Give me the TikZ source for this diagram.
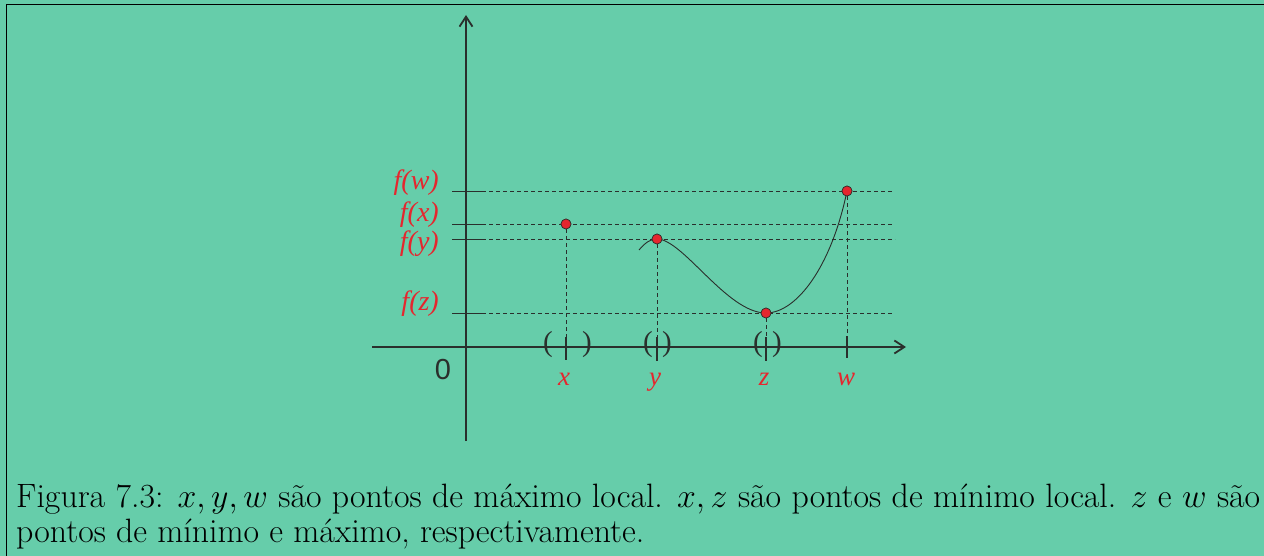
\RequirePackage{fix-cm}
\documentclass[tikz,border=0pt]{standalone}
\usepackage{fontspec}
\newfontfamily\tnr{Liberation Serif}[ItalicFont={Liberation Serif Italic}]
\newfontfamily\ars{Liberation Sans}
\usetikzlibrary{arrows.meta}
\definecolor{bg}{HTML}{66CDAA}
\definecolor{lab}{HTML}{E5262E}
\definecolor{ax}{HTML}{2A2F2C}
\begin{document}
\begin{tikzpicture}[x=1pt,y=-1pt,
  axisline/.style={ax, line width=1.3pt, -{Straight Barb[length=10pt,width=13pt,line width=1.8pt]}},
  guide/.style={ax, line width=0.9pt, dash pattern=on 4pt off 3pt},
  tickline/.style={ax, line width=1.1pt},
  htick/.style={ax, line width=0.8pt},
  pdot/.style={circle, fill=lab, draw=ax, line width=0.6pt, minimum size=10pt, inner sep=0pt},
  flab/.style={text=lab, font=\tnr\itshape\fontsize{28}{28}\selectfont, anchor=east, inner sep=0pt},
  xlab/.style={text=lab, font=\tnr\itshape\fontsize{27}{27}\selectfont, anchor=base, inner sep=0pt},
  paren/.style={text=ax, font=\tnr\fontsize{29}{29}\selectfont, inner sep=0pt},
  frame/.style={black, line width=1pt}]
\useasboundingbox (0,0) rectangle (1264,556);
\fill[bg] (0,0) rectangle (1264,556);
\draw[frame] (6,556) -- (6,5) -- (1264,5);
% axes
\coordinate (yb) at (466,441);
\coordinate (yt) at (466,15);
\coordinate (xl) at (372,347);
\coordinate (xr) at (906,347);
\draw[axisline] (yb) -- (yt);
\draw[axisline] (xl) -- (xr);
\node[font=\ars\fontsize{29}{29}\selectfont, text=ax, inner sep=0pt] (zero) at (443,370) {0};
% points
\node[pdot] (px) at (566,224) {};
\node[pdot] (py) at (657,239) {};
\node[pdot] (pz) at (766,313) {};
\node[pdot] (pw) at (847,191) {};
% horizontal guide levels
\coordinate (hw0) at (452,191); \coordinate (hw1) at (482,191); \coordinate (hw2) at (892,191);
\coordinate (hx0) at (452,224); \coordinate (hx1) at (482,224); \coordinate (hx2) at (893,224);
\coordinate (hy0) at (452,239); \coordinate (hy1) at (482,239); \coordinate (hy2) at (895,239);
\coordinate (hz0) at (452,313); \coordinate (hz1) at (482,313); \coordinate (hz2) at (893,313);
\foreach \h in {hw,hx,hy,hz}{
  \draw[htick] (\h0) -- (\h1);
  \draw[guide] (\h1) -- (\h2);
}
% vertical guides and ticks
\coordinate (vx1) at (566,337); \coordinate (vx2) at (566,360);
\coordinate (vy1) at (657,337); \coordinate (vy2) at (657,361);
\coordinate (vz1) at (766,337); \coordinate (vz2) at (766,361);
\coordinate (vw1) at (847,336); \coordinate (vw2) at (847,358);
\draw[guide] (px) -- (vx1);
\draw[guide] (py) -- (vy1);
\draw[guide] (pz) -- (vz1);
\draw[guide] (pw) -- (vw1);
\draw[tickline] (vx1) -- (vx2);
\draw[tickline] (vy1) -- (vy2);
\draw[tickline] (vz1) -- (vz2);
\draw[tickline] (vw1) -- (vw2);
% parentheses
\node[paren] (xpl) at (548,345) {(};
\node[paren] (xpr) at (587,345) {)};
\node[paren] (ypl) at (648,345) {(};
\node[paren] (ypr) at (667,345) {)};
\node[paren] (zpl) at (758,345) {(};
\node[paren] (zpr) at (777,345) {)};
% curve
\coordinate (cs) at (639,250);
\draw[ax, line width=0.9pt] (cs) .. controls (645,243) and (650,239) .. (py.center)
  .. controls (683,239) and (727,313) .. (pz.center)
  .. controls (796,313) and (831,268) .. (pw.center);
% dots on top
\node[pdot] at (px) {};
\node[pdot] at (py) {};
\node[pdot] at (pz) {};
\node[pdot] at (pw) {};
% labels
\node[flab] (lfw) at (439,183) {f(w)};
\node[flab] (lfx) at (439,215) {f(x)};
\node[flab] (lfy) at (439,244) {f(y)};
\node[flab] (lfz) at (439,304) {f(z)};
\node[xlab] (lx) at (564,385) {x};
\node[xlab] (ly) at (655,385) {y};
\node[xlab] (lz) at (764,385) {z};
\node[xlab] (lw) at (846,385) {w};
% caption
\node[anchor=north west, inner sep=0pt, text width=1244pt, align=justify,
  font=\fontsize{33.8}{35}\selectfont] (cap) at (16,483.5)
  {Figura 7.3: $x, y, w$ são pontos de máximo local. $x, z$ são pontos de mínimo local. $z$ e $w$ são\linebreak pontos de mínimo e máximo, respectivamente.};
\end{tikzpicture}
\end{document}
